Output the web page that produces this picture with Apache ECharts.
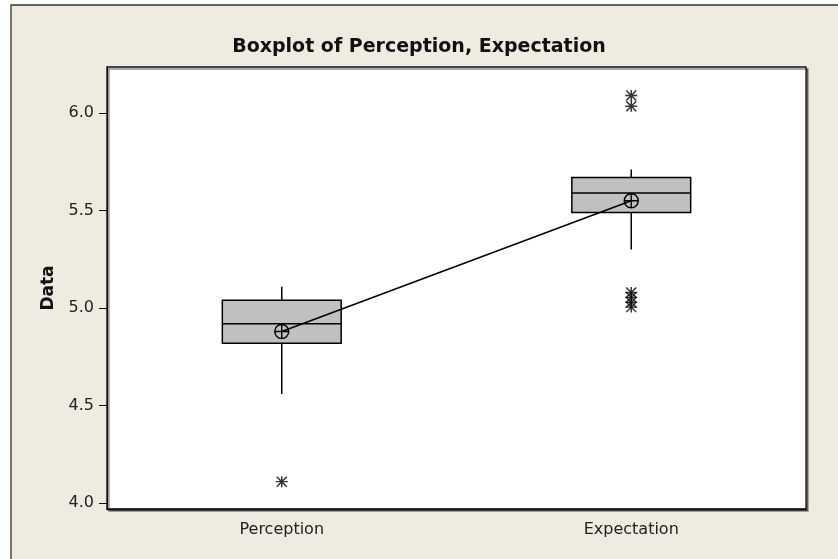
<!DOCTYPE html>
<html>
<head>
<meta charset="utf-8">
<script src="https://cdn.jsdelivr.net/npm/echarts@6/dist/echarts.min.js"></script>
<style>
  html, body { margin: 0; padding: 0; background: #fff; }
  #chart { width: 838px; height: 559px; }
</style>
</head>
<body>
<div id="chart"></div>
<script>
// values
const categories = ['Perception', 'Expectation'];
// [lower whisker, Q1, median, Q3, upper whisker]
const boxStats = [
  [4.56, 4.82, 4.92, 5.04, 5.11],
  [5.30, 5.49, 5.59, 5.67, 5.71]
];
const means = [4.88, 5.55];
const perceptionOutliers = [4.11];
const expectationOutliers = [6.09, 6.035, 5.08, 5.055, 5.03, 5.005];
const yTicks = [4.0, 4.5, 5.0, 5.5, 6.0];

const font = 'DejaVu Sans';
const asterisk = 'path://M-5,-5 L5,5 M-5,5 L5,-5 M-6,0 L6,0 M0,-5.5 L0,5.5';
const crossCircle = 'path://M0,-10 A10,10 0 1,1 0,10 A10,10 0 1,1 0,-10 Z M-10,0 L10,0 M0,-10 L0,10';

let outlierData = [];
perceptionOutliers.forEach((v) => outlierData.push([0, v]));
expectationOutliers.forEach((v) => outlierData.push([1, v]));

function renderBox(params, api) {
  let idx = api.value(0);
  let lo = api.coord([idx, api.value(1)]);
  let q1 = api.coord([idx, api.value(2)]);
  let med = api.coord([idx, api.value(3)]);
  let q3 = api.coord([idx, api.value(4)]);
  let hi = api.coord([idx, api.value(5)]);
  let halfW = api.size([1, 0])[0] * 0.17;
  let x = q1[0];
  let line = { stroke: '#000', lineWidth: 1.5 };
  return {
    type: 'group',
    children: [
      { type: 'line', shape: { x1: x, y1: hi[1], x2: x, y2: q3[1] }, style: line },
      { type: 'line', shape: { x1: x, y1: q1[1], x2: x, y2: lo[1] }, style: line },
      { type: 'rect', shape: { x: x - halfW, y: q3[1], width: halfW * 2, height: q1[1] - q3[1] },
        style: { fill: '#c0c0c0', stroke: '#000', lineWidth: 1.5 } },
      { type: 'line', shape: { x1: x - halfW, y1: med[1], x2: x + halfW, y2: med[1] }, style: line }
    ]
  };
}

const chart = echarts.init(document.getElementById('chart'));
chart.setOption({
  animation: false,
  backgroundColor: '#fff',
  graphic: [{
    type: 'rect', z: -10, silent: true,
    shape: { x: 11, y: 5, width: 900, height: 600 },
    style: { fill: '#efebe1', stroke: '#333', lineWidth: 1.3 }
  }],
  title: {
    text: 'Boxplot of Perception, Expectation',
    left: 'center', top: 33,
    textStyle: { fontFamily: font, fontWeight: 'bold', fontSize: 19, color: '#111' }
  },
  grid: {
    left: 107, right: 32, top: 67, bottom: 50,
    show: true, backgroundColor: '#fff', borderColor: '#111', borderWidth: 1.3,
    shadowColor: 'rgba(0,0,0,0.45)', shadowOffsetX: 2, shadowOffsetY: 2
  },
  xAxis: {
    type: 'category',
    data: categories,
    axisLine: { lineStyle: { color: '#111', width: 1.3 } },
    axisTick: { alignWithLabel: true, length: 5, lineStyle: { color: '#111' } },
    axisLabel: { fontFamily: font, fontSize: 16, color: '#222', margin: 13 }
  },
  yAxis: {
    type: 'value',
    min: 3.97, max: 6.236,
    name: 'Data',
    nameLocation: 'middle',
    nameGap: 50,
    nameTextStyle: { fontFamily: font, fontWeight: 'bold', fontSize: 17, color: '#111' },
    splitLine: { show: false },
    axisLine: { show: true, lineStyle: { color: '#111', width: 1.3 } },
    axisTick: { show: true, length: 8, customValues: yTicks, lineStyle: { color: '#111' } },
    axisLabel: {
      fontFamily: font, fontSize: 16, color: '#222', margin: 13,
      customValues: yTicks,
      formatter: (v) => v.toFixed(1)
    }
  },
  series: [
    {
      type: 'custom',
      renderItem: renderBox,
      data: boxStats.map((s, i) => [i].concat(s)),
      z: 2
    },
    {
      type: 'line',
      data: means,
      symbol: crossCircle,
      symbolSize: 14,
      lineStyle: { color: '#000', width: 1.5 },
      itemStyle: { color: 'rgba(0,0,0,0)', borderColor: '#000', borderWidth: 1.4 },
      z: 5
    },
    {
      type: 'scatter',
      data: outlierData,
      symbol: asterisk,
      symbolSize: [12, 11],
      itemStyle: { color: 'rgba(0,0,0,0)', borderColor: '#000', borderWidth: 1.4 },
      z: 4
    }
  ]
});
</script>
</body>
</html>
